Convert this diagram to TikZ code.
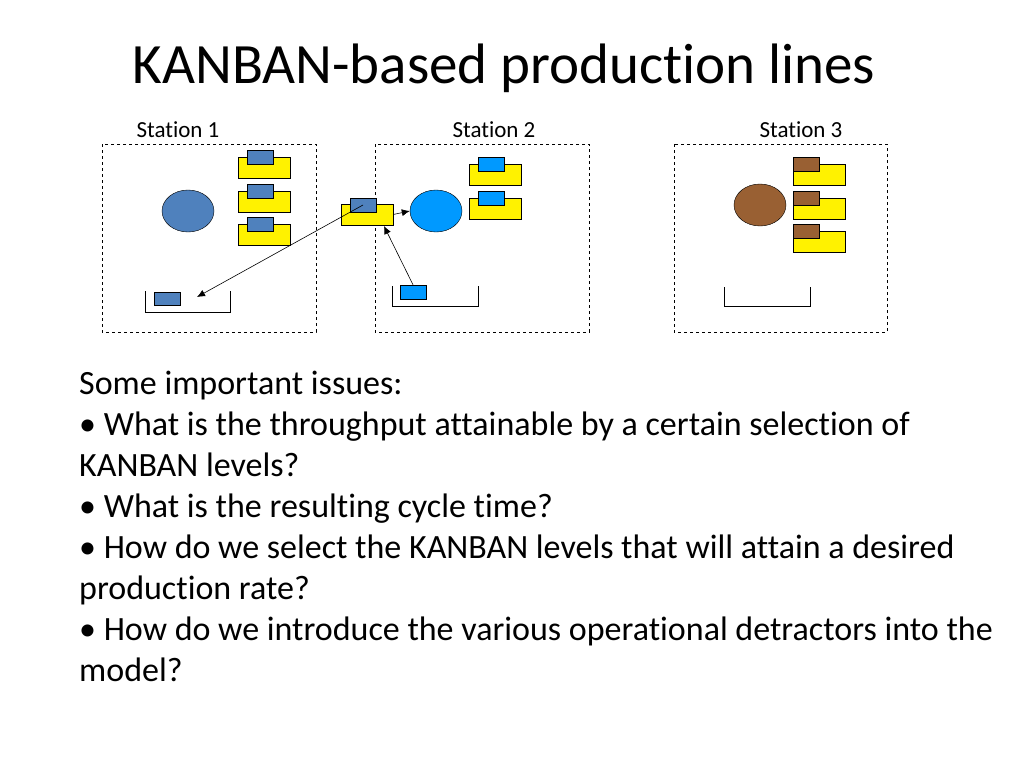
\documentclass[tikz,border=0pt]{standalone}
\usepackage{fontspec}
\setmainfont[Ligatures={NoCommon}]{Carlito}
\usetikzlibrary{arrows.meta,shapes.geometric}
\definecolor{steel}{RGB}{79,129,189}
\definecolor{sky}{RGB}{0,153,255}
\definecolor{umber}{RGB}{153,96,51}
\tikzset{
	station/.style={draw, dashed, thin},
	tray/.style={fill=yellow, draw, thin},
	kanban/.style={draw, thin},
	flow/.style={-{Latex[length=8pt,width=7pt]}, semithick}
}
\begin{document}
\begin{tikzpicture}[x=1pt,y=-1pt]
	\useasboundingbox (0,0) rectangle (1024,768);
	% stations
	\draw[station] (102,144) rectangle (316,332);
	\draw[station] (375,144) rectangle (589,332);
	\draw[station] (674,144) rectangle (887,332);
	\node[font=\fontsize{23}{26}\selectfont] (l1) at (178,130) {Station 1};
	\node[font=\fontsize{23}{26}\selectfont] (l2) at (494,130) {Station 2};
	\node[font=\fontsize{23}{26}\selectfont] (l3) at (801,130) {Station 3};

	% machines
	\draw[fill=steel] (188,211) ellipse (26 and 21);
	\node[ellipse, draw, fill=sky, minimum width=52, minimum height=42, inner sep=0] (m2) at (436,211) {};
	\draw[fill=umber] (760,205) ellipse (26 and 21);

	% station 1 trays
	\foreach \y in {157,191,224} {
		\draw[tray] (238,\y) rectangle (290,\y+21);
		\draw[kanban, fill=steel] (247,\y-7) rectangle (273,\y+7);
	}
	% station 2 trays
	\foreach \y in {164,198} {
		\draw[tray] (469,\y) rectangle (521,\y+21);
		\draw[kanban, fill=sky] (478,\y-7) rectangle (504,\y+7);
	}
	% station 3 trays
	\foreach \y in {164,198,231} {
		\draw[tray] (793,\y) rectangle (845,\y+21);
		\draw[kanban, fill=umber] (793,\y-7) rectangle (819,\y+7);
	}

	% bins
	\draw (145,291) -- (145,312) -- (230,312) -- (230,291);
	\draw (392,286) -- (392,306) -- (478,306) -- (478,286);
	\draw (724,287) -- (724,306) -- (810,306) -- (810,287);
	\draw[kanban, fill=steel] (154,292) rectangle (180,305);
	\node[draw, thin, fill=sky, minimum width=26, minimum height=14, inner sep=0] (c2) at (413,292) {};

	% transfer tray
	\node[tray, minimum width=52, minimum height=21, inner sep=0] (tr) at (367,214.5) {};
	\node[kanban, fill=steel, minimum width=26, minimum height=14, inner sep=0] (c1) at (363,205) {};
	\coordinate (b1) at (197,297);
	\draw[flow] (c1.center) -- (b1);
	\draw[flow] (tr.east) -- (m2.west);
	\draw[flow] (c2.north) -- (384,226);

	% text
	\node[font=\fontsize{57}{62}\selectfont] (title) at (504,68) {KANBAN-based production lines};
	\foreach \t [count=\i from 0] in {Some important issues:,
		{\textbullet\ What is the throughput attainable by a certain selection of},
		KANBAN levels?,
		\textbullet\ What is the resulting cycle time?,
		\textbullet\ How do we select the KANBAN levels that will attain a desired,
		production rate?,
		\textbullet\ How do we introduce the various operational detractors into the,
		model?}
		\node[anchor=base west, inner sep=0, font=\fontsize{34}{40}\selectfont] (t\i) at (79,394+41*\i) {\t};
\end{tikzpicture}
\end{document}
